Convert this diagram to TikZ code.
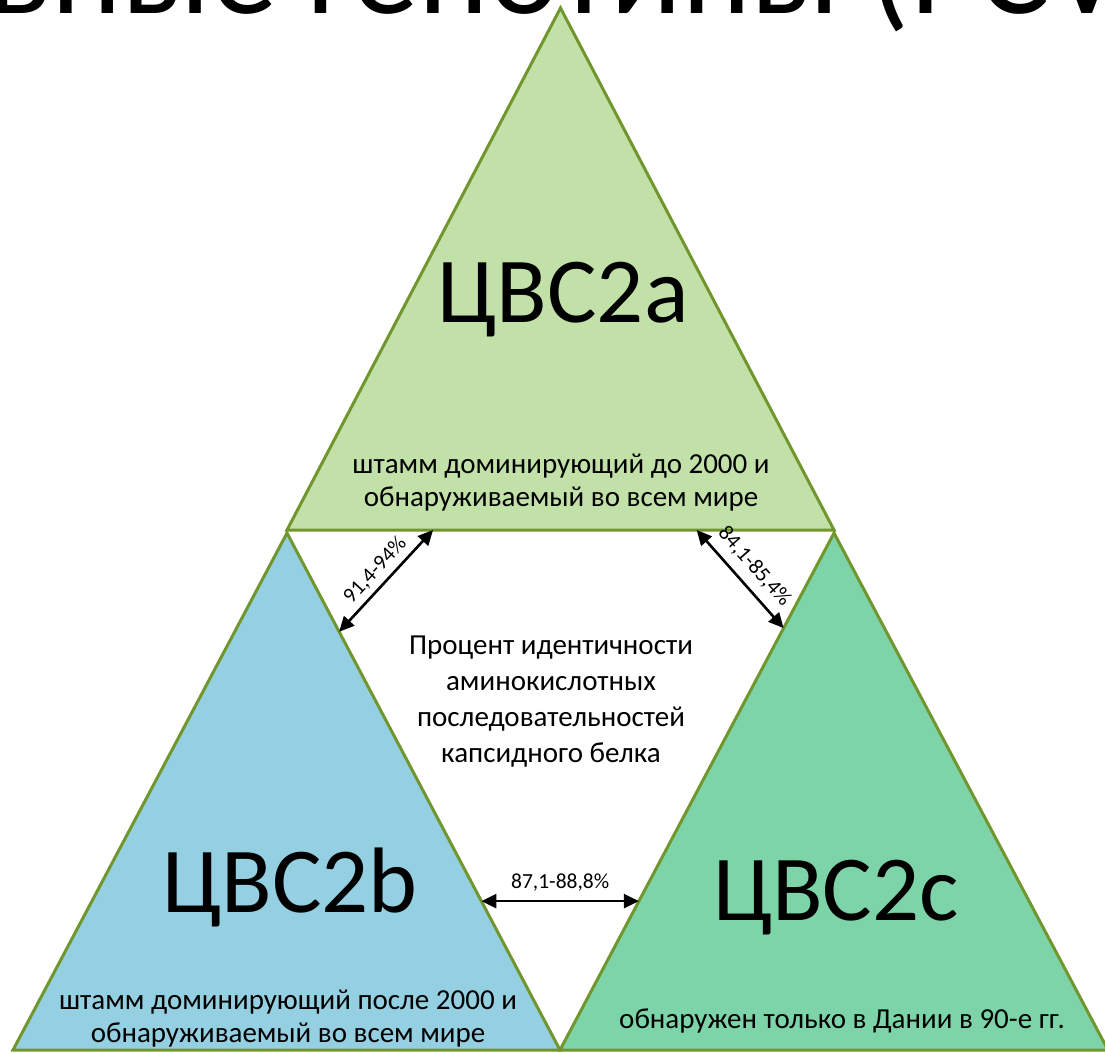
\documentclass[tikz,border=0pt]{standalone}
\usepackage{fontspec}
\setmainfont{Carlito}
\usetikzlibrary{arrows.meta,calc}
\definecolor{edgegreen}{RGB}{113,150,45}
\definecolor{gtafill}{RGB}{194,225,169}
\definecolor{gtbfill}{RGB}{148,207,226}
\definecolor{gtcfill}{RGB}{125,212,168}
\tikzset{
  tri/.style={draw=edgegreen, line width=3pt, line join=miter},
  ttl/.style={inner sep=0pt, anchor=base west, font=\fontsize{133}{136}\selectfont},
  gtname/.style={inner sep=0pt, anchor=base, font=\fontsize{93}{100}\selectfont},
  gtnote/.style={inner sep=0pt, align=center, font=\fontsize{29}{33}\selectfont},
  pct/.style={inner sep=2pt, font=\fontsize{21.5}{24}\selectfont},
  ar/.style={{Triangle[length=15pt,width=14pt]}-{Triangle[length=15pt,width=14pt]}, line width=2.6pt},
}

\begin{document}
\begin{tikzpicture}[x=1pt, y=-1pt]
  \useasboundingbox (0,0) rectangle (1105,1052);
  \clip (0,0) rectangle (1105,1052);

  \node[ttl] (title) at (-298,13) {Основные генотипы (PCV2)};

  \coordinate (ta) at (560.5,8);
  \coordinate (tl) at (287,530);
  \coordinate (tr) at (834,530);
  \coordinate (la) at (287,533);
  \coordinate (ll) at (13,1050);
  \coordinate (lr) at (560,1050);
  \coordinate (ra) at (834,533);
  \coordinate (rl) at (560,1050);
  \coordinate (rr) at (1108,1050);

  \filldraw[tri, fill=gtafill] (ta) -- (tl) -- (tr) -- cycle;
  \filldraw[tri, fill=gtbfill] (la) -- (ll) -- (lr) -- cycle;
  \filldraw[tri, fill=gtcfill] (ra) -- (rl) -- (rr) -- cycle;

  \node[gtname] (gta) at (563,322) {ЦВС2a};
  \node[gtname] (gtb) at (290,912) {ЦВС2b};
  \node[gtname] (gtc) at (836,920) {ЦВС2c};

  \node[gtnote] (gtanote) at (561,483) {штамм доминирующий до 2000 и\\обнаруживаемый во всем мире};
  \node[gtnote] (gtbnote) at (288,1019) {штамм доминирующий после 2000 и\\обнаруживаемый во всем мире};
  \node[gtnote, anchor=base] (gtcnote) at (842,1028) {обнаружен только в Дании в 90-е гг.};

  \node[gtnote, font=\fontsize{29}{36}\selectfont] (capsid) at (551,702)
    {Процент идентичности\\аминокислотных\\последовательностей\\капсидного белка};

  \coordinate (ab1) at ($(tl)!0.267!(tr)$);
  \coordinate (ab2) at ($(tl)!0.749!(tr)$);
  \coordinate (lb1) at ($(la)!0.191!(lr)$);
  \coordinate (lb2) at ($(la)!0.712!(lr)$);
  \coordinate (rb1) at ($(ra)!0.184!(rl)$);
  \coordinate (rb2) at ($(ra)!0.712!(rl)$);

  \draw[ar] (lb1) -- (ab1) node[midway, sloped, above=3pt, pct] (ab) {91,4-94\%};
  \draw[ar] (ab2) -- (rb1) node[midway, sloped, above=7pt, pct] (ac) {84,1-85,4\%};
  \draw[ar] (lb2) -- (rb2) node[midway, above=7pt, pct] (bc) {87,1-88,8\%};
\end{tikzpicture}
\end{document}
